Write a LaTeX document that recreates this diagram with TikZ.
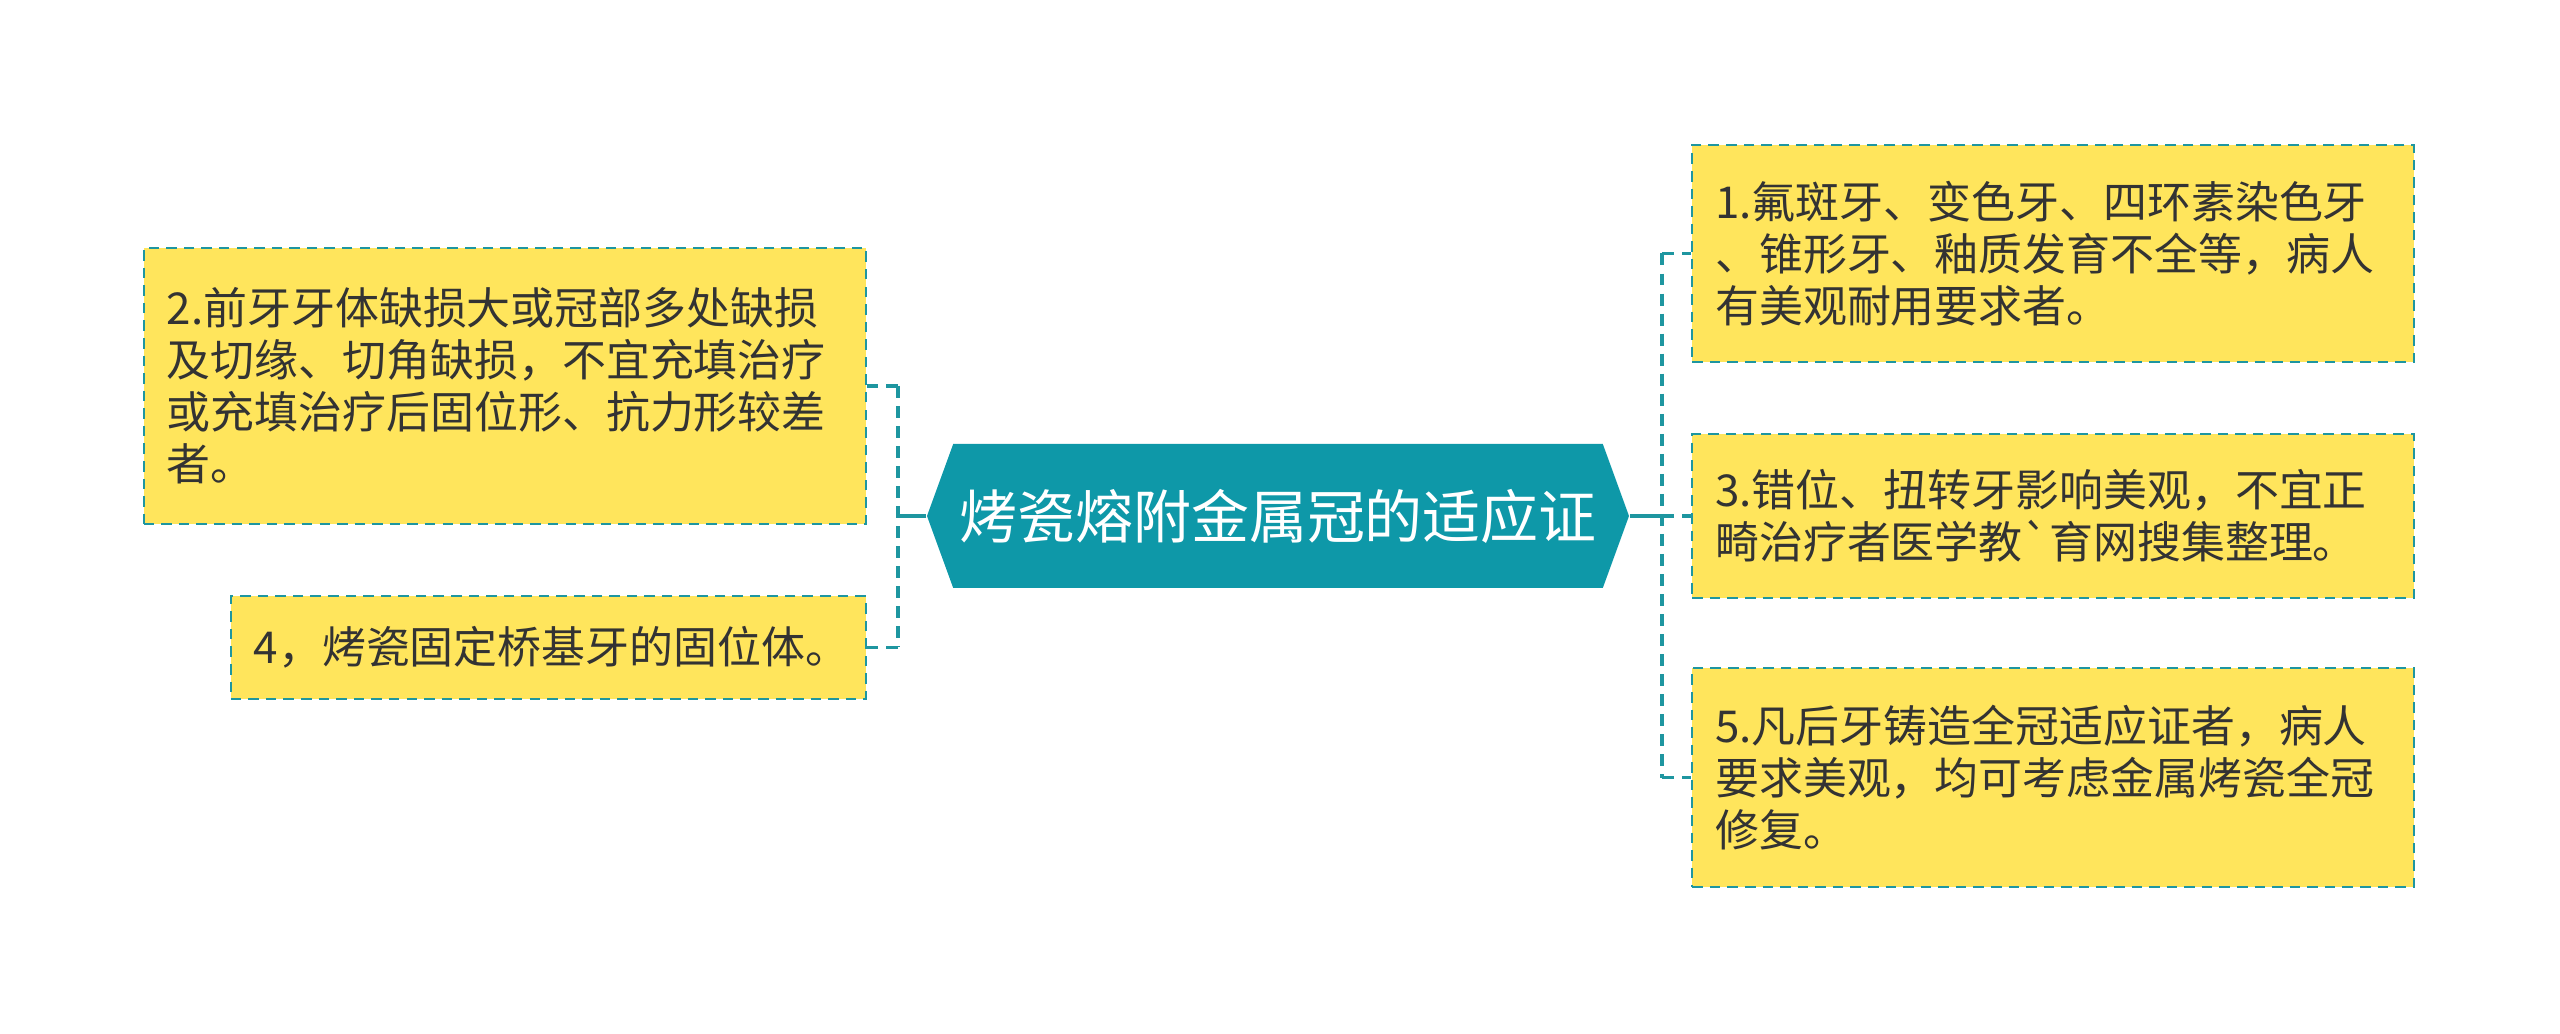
\documentclass[tikz,border=0pt]{standalone}
\usepackage{fontspec}
\newfontfamily\cjkfont{Noto Sans CJK SC}
\usetikzlibrary{shapes.symbols}

\definecolor{hubteal}{RGB}{14,152,168}
\definecolor{linkteal}{RGB}{30,150,160}
\definecolor{leafyellow}{RGB}{255,229,92}
\definecolor{leafink}{RGB}{51,51,51}

\tikzset{
  hub/.style={signal, signal to=west and east, signal pointer angle=140,
    fill=hubteal, text=white, minimum width=7.02cm, minimum height=1.44cm,
    inner sep=0pt, font=\cjkfont\fontsize{16.5pt}{19pt}\selectfont},
  leaf/.style={draw=linkteal, dashed, dash pattern=on 3pt off 2pt, line width=0.7pt,
    fill=leafyellow, text=leafink, text width=6.76cm, inner xsep=0.23cm,
    align=left, font=\cjkfont\fontsize{12.5pt}{14.8pt}\selectfont},
  trunk/.style={draw=linkteal, line width=1.1pt},
  twig/.style={draw=linkteal, line width=1.1pt, dash pattern=on 3.4pt off 2.3pt}
}

\begin{document}
\begin{tikzpicture}
\useasboundingbox (0,0) rectangle (25.6,10.33);

\node[hub] (hub) at (12.78,5.17) {烤瓷熔附金属冠的适应证};

% left side
\node[leaf, anchor=east, minimum height=2.76cm] (n2) at (8.67,6.47)
  {2.前牙牙体缺损大或冠部多处缺损\\及切缘、切角缺损，不宜充填治疗\\或充填治疗后固位形、抗力形较差\\者。};
\node[leaf, anchor=east, minimum height=1.03cm, text width=5.89cm] (n4) at (8.67,3.855)
  {4，烤瓷固定桥基牙的固位体。};

% right side
\node[leaf, anchor=west, minimum height=2.17cm] (n1) at (16.91,7.795)
  {1.氟斑牙、变色牙、四环素染色牙\\、锥形牙、釉质发育不全等，病人\\有美观耐用要求者。};
\node[leaf, anchor=west, minimum height=1.64cm] (n3) at (16.91,5.17)
  {3.错位、扭转牙影响美观，不宜正\\畸治疗者医学教`育网搜集整理。};
\node[leaf, anchor=west, minimum height=2.19cm] (n5) at (16.91,2.555)
  {5.凡后牙铸造全冠适应证者，病人\\要求美观，均可考虑金属烤瓷全冠\\修复。};

\coordinate (lj) at (8.98,5.17);
\coordinate (rj) at (16.62,5.17);

\draw[trunk] (hub.west) -- (lj);
\draw[twig] (lj |- n2.east) -- (lj |- n4.east);
\draw[twig] (lj |- n2.east) -- (n2.east);
\draw[twig] (lj |- n4.east) -- (n4.east);

\draw[trunk] (hub.east) -- (rj);
\draw[twig] (rj |- n1.west) -- (rj |- n5.west);
\draw[twig] (rj |- n1.west) -- (n1.west);
\draw[twig] (rj) -- (n3.west);
\draw[twig] (rj |- n5.west) -- (n5.west);
\end{tikzpicture}
\end{document}
